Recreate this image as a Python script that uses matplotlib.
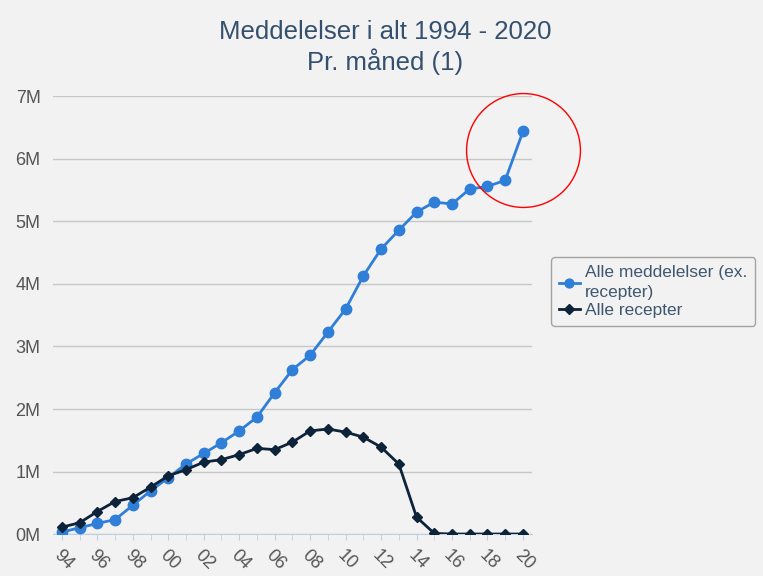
import matplotlib
matplotlib.use("Agg")
import matplotlib.pyplot as plt
from matplotlib.ticker import FixedLocator, FuncFormatter

years = list(range(1994, 2021))
meddelelser = [0.03, 0.10, 0.17, 0.23, 0.46, 0.69, 0.90, 1.12, 1.29, 1.46,
               1.65, 1.87, 2.26, 2.63, 2.86, 3.23, 3.60, 4.13, 4.56, 4.86,
               5.15, 5.31, 5.28, 5.52, 5.56, 5.66, 6.44]
recepter = [0.11, 0.18, 0.36, 0.52, 0.58, 0.75, 0.93, 1.03, 1.15, 1.19,
            1.27, 1.37, 1.35, 1.47, 1.65, 1.68, 1.63, 1.55, 1.39, 1.12,
            0.27, 0.01, 0.0, 0.0, 0.0, 0.0, 0.0]
tick_years = list(range(1994, 2021, 2))
y_ticks = list(range(0, 8))

title = "Meddelelser i alt 1994 - 2020\nPr. måned (1)"
label_med = "Alle meddelelser (ex.\nrecepter)"
label_rec = "Alle recepter"

plt.rcParams['font.family'] = ['Liberation Sans', 'DejaVu Sans']

fig = plt.figure(figsize=(7.63, 5.76), dpi=100)
fig.patch.set_facecolor('#f2f2f2')
ax = fig.add_axes([0.0695, 0.0729, 0.6275, 0.7596])
ax.set_facecolor('none')

ax.plot(years, meddelelser, color='#2f7ed8', lw=2, marker='o', ms=7.5,
        label=label_med, zorder=3)
ax.plot(years, recepter, color='#0d233a', lw=2, marker='D', ms=5.5,
        label=label_rec, zorder=4)

# red circle annotation around the last points
ax.plot([2020.0], [6.14], marker='o', ms=82, mfc='none', mec='#ff0000',
        mew=1.0, clip_on=False, zorder=5)

ax.set_xlim(1993.5, 2020.5)
ax.set_ylim(0, 7)
ax.yaxis.set_major_locator(FixedLocator(y_ticks))
ax.yaxis.set_major_formatter(FuncFormatter(lambda v, p: f"{int(v)}M"))
ax.grid(axis='y', color='#c8c8c8', lw=1)
ax.set_axisbelow(True)

ax.set_xticks(tick_years)
ax.set_xticklabels([f"{y % 100:02d}" for y in tick_years], rotation=-45,
                   ha='left', va='top', rotation_mode='anchor')
ax.set_xticks(years, minor=True)
ax.tick_params(axis='x', which='both', length=4, color='#c0d0e0',
               labelsize=13, labelcolor='#555555', pad=5)
ax.tick_params(axis='y', length=0, labelsize=13, labelcolor='#555555', pad=9)

for s in ['top', 'right', 'left']:
    ax.spines[s].set_visible(False)
ax.spines['bottom'].set_color('#c0d0e0')

fig.text(0.505, 0.966, title, ha='center', va='top', fontsize=18.5,
         color='#34506e', linespacing=1.2)

leg = fig.legend(loc='center left', bbox_to_anchor=(0.711, 0.494),
                 fontsize=12.5, frameon=True, fancybox=True,
                 handlelength=1.2, handletextpad=0.3, labelspacing=0.15,
                 borderpad=0.45, markerscale=0.85)
leg.get_frame().set_edgecolor('#909090')
leg.get_frame().set_facecolor('#f2f2f2')
leg.get_frame().set_linewidth(1)
for t in leg.get_texts():
    t.set_color('#3e576f')
    t.set_linespacing(1.45)

fig.savefig('out.png', dpi=100, facecolor=fig.get_facecolor())
